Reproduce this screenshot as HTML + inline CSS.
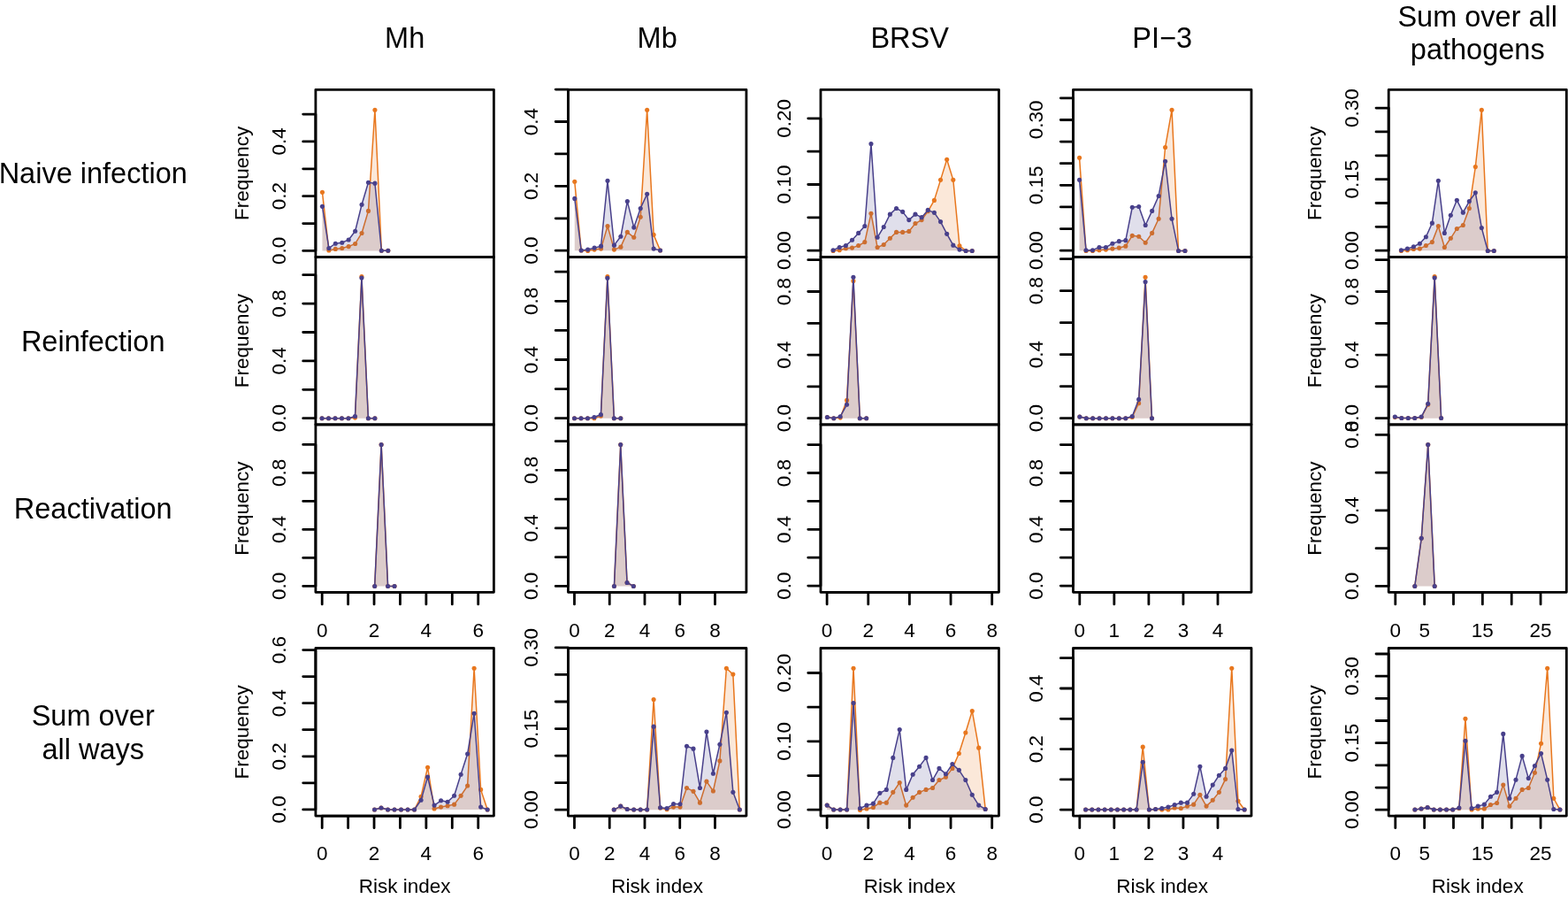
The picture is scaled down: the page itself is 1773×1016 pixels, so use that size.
<!DOCTYPE html>
<html><head><meta charset="utf-8"><title>Risk index frequency</title>
<style>html,body{margin:0;padding:0;background:#fff;overflow:hidden}svg{display:block}text{font-family:'Liberation Sans',sans-serif;fill:#000}</style></head><body>
<svg width="1773" height="1016" viewBox="0 0 1773 1016">
<rect width="1773" height="1016" fill="#fff"/>
<text x="457.65" y="53.9" font-size="32.5" text-anchor="middle">Mh</text>
<text x="743.18" y="53.9" font-size="32.5" text-anchor="middle">Mb</text>
<text x="1028.71" y="53.9" font-size="32.5" text-anchor="middle">BRSV</text>
<text x="1314.24" y="53.9" font-size="32.5" text-anchor="middle">PI−3</text>
<text x="1670.75" y="29.8" font-size="32.5" text-anchor="middle">Sum over all</text>
<text x="1670.75" y="66.7" font-size="32.5" text-anchor="middle">pathogens</text>
<text x="105.2" y="207.2" font-size="32.5" text-anchor="middle">Naive infection</text>
<text x="105.2" y="397.1" font-size="32.5" text-anchor="middle">Reinfection</text>
<text x="105.2" y="586.0" font-size="32.5" text-anchor="middle">Reactivation</text>
<text x="105.2" y="819.8" font-size="32.5" text-anchor="middle">Sum over</text>
<text x="105.2" y="857.9" font-size="32.5" text-anchor="middle">all ways</text>
<g><polygon points="364.45,283.4 364.45,217.26 371.88,282.91 379.32,281.41 386.76,280.48 394.19,278.6 401.63,275.43 409.06,263.46 416.5,238.4 423.93,124.31 431.37,283.28 438.81,283.28 438.81,283.4" fill="#E8771E" fill-opacity="0.17" stroke="none"/>
<polyline points="364.45,217.26 371.88,282.91 379.32,281.41 386.76,280.48 394.19,278.6 401.63,275.43 409.06,263.46 416.5,238.4 423.93,124.31 431.37,283.28 438.81,283.28" fill="none" stroke="#E8771E" stroke-width="1.5" stroke-linejoin="round" stroke-linecap="round"/>
<g fill="#E8771E"><circle cx="364.45" cy="217.26" r="2.55"/><circle cx="371.88" cy="282.91" r="2.55"/><circle cx="379.32" cy="281.41" r="2.55"/><circle cx="386.76" cy="280.48" r="2.55"/><circle cx="394.19" cy="278.6" r="2.55"/><circle cx="401.63" cy="275.43" r="2.55"/><circle cx="409.06" cy="263.46" r="2.55"/><circle cx="416.5" cy="238.4" r="2.55"/><circle cx="423.93" cy="124.31" r="2.55"/><circle cx="431.37" cy="283.28" r="2.55"/><circle cx="438.81" cy="283.28" r="2.55"/></g>
<polygon points="364.45,283.4 364.45,233.35 371.88,280.48 379.32,275.24 386.76,274.3 394.19,270.94 401.63,261.21 409.06,231.29 416.5,206.23 423.93,207.16 431.37,283.28 438.81,283.28 438.81,283.4" fill="#48408B" fill-opacity="0.17" stroke="none"/>
<polyline points="364.45,233.35 371.88,280.48 379.32,275.24 386.76,274.3 394.19,270.94 401.63,261.21 409.06,231.29 416.5,206.23 423.93,207.16 431.37,283.28 438.81,283.28" fill="none" stroke="#48408B" stroke-width="1.5" stroke-linejoin="round" stroke-linecap="round"/>
<g fill="#48408B"><circle cx="364.45" cy="233.35" r="2.55"/><circle cx="371.88" cy="280.48" r="2.55"/><circle cx="379.32" cy="275.24" r="2.55"/><circle cx="386.76" cy="274.3" r="2.55"/><circle cx="394.19" cy="270.94" r="2.55"/><circle cx="401.63" cy="261.21" r="2.55"/><circle cx="409.06" cy="231.29" r="2.55"/><circle cx="416.5" cy="206.23" r="2.55"/><circle cx="423.93" cy="207.16" r="2.55"/><circle cx="431.37" cy="283.28" r="2.55"/><circle cx="438.81" cy="283.28" r="2.55"/></g>
<rect x="356.9" y="101.3" width="201.5" height="189.3" fill="none" stroke="#000" stroke-width="2.8" stroke-linejoin="round"/>
<path d="M342.7 283.4H356.9M342.7 252.54H356.9M342.7 221.68H356.9M342.7 190.82H356.9M342.7 159.96H356.9M342.7 129.1H356.9M356.9 283.4V129.1" stroke="#000" stroke-width="2.8" stroke-linecap="round" fill="none"/>
<text transform="translate(322.9 283.4) rotate(-90)" font-size="22.5" text-anchor="middle">0.0</text>
<text transform="translate(322.9 221.68) rotate(-90)" font-size="22.5" text-anchor="middle">0.2</text>
<text transform="translate(322.9 159.96) rotate(-90)" font-size="22.5" text-anchor="middle">0.4</text>
<text transform="translate(281.1 195.95) rotate(-90)" font-size="22.5" text-anchor="middle">Frequency</text></g>
<g><polygon points="649.79,283.2 649.79,205.31 657.23,283.07 664.68,283.46 672.12,282.09 679.57,281.1 687.01,255.51 694.46,282.09 701.9,279.13 709.35,262.4 716.79,268.31 724.24,245.28 731.68,124.21 739.13,265.35 746.57,283.07 746.57,283.2" fill="#E8771E" fill-opacity="0.17" stroke="none"/>
<polyline points="649.79,205.31 657.23,283.07 664.68,283.46 672.12,282.09 679.57,281.1 687.01,255.51 694.46,282.09 701.9,279.13 709.35,262.4 716.79,268.31 724.24,245.28 731.68,124.21 739.13,265.35 746.57,283.07" fill="none" stroke="#E8771E" stroke-width="1.5" stroke-linejoin="round" stroke-linecap="round"/>
<g fill="#E8771E"><circle cx="649.79" cy="205.31" r="2.55"/><circle cx="657.23" cy="283.07" r="2.55"/><circle cx="664.68" cy="283.46" r="2.55"/><circle cx="672.12" cy="282.09" r="2.55"/><circle cx="679.57" cy="281.1" r="2.55"/><circle cx="687.01" cy="255.51" r="2.55"/><circle cx="694.46" cy="282.09" r="2.55"/><circle cx="701.9" cy="279.13" r="2.55"/><circle cx="709.35" cy="262.4" r="2.55"/><circle cx="716.79" cy="268.31" r="2.55"/><circle cx="724.24" cy="245.28" r="2.55"/><circle cx="731.68" cy="124.21" r="2.55"/><circle cx="739.13" cy="265.35" r="2.55"/><circle cx="746.57" cy="283.07" r="2.55"/></g>
<polygon points="649.79,283.2 649.79,224.41 657.23,283.07 664.68,282.09 672.12,280.12 679.57,278.15 687.01,204.33 694.46,277.17 701.9,267.32 709.35,227.56 716.79,257.09 724.24,235.43 731.68,219.29 739.13,281.1 746.57,283.07 746.57,283.2" fill="#48408B" fill-opacity="0.17" stroke="none"/>
<polyline points="649.79,224.41 657.23,283.07 664.68,282.09 672.12,280.12 679.57,278.15 687.01,204.33 694.46,277.17 701.9,267.32 709.35,227.56 716.79,257.09 724.24,235.43 731.68,219.29 739.13,281.1 746.57,283.07" fill="none" stroke="#48408B" stroke-width="1.5" stroke-linejoin="round" stroke-linecap="round"/>
<g fill="#48408B"><circle cx="649.79" cy="224.41" r="2.55"/><circle cx="657.23" cy="283.07" r="2.55"/><circle cx="664.68" cy="282.09" r="2.55"/><circle cx="672.12" cy="280.12" r="2.55"/><circle cx="679.57" cy="278.15" r="2.55"/><circle cx="687.01" cy="204.33" r="2.55"/><circle cx="694.46" cy="277.17" r="2.55"/><circle cx="701.9" cy="267.32" r="2.55"/><circle cx="709.35" cy="227.56" r="2.55"/><circle cx="716.79" cy="257.09" r="2.55"/><circle cx="724.24" cy="235.43" r="2.55"/><circle cx="731.68" cy="219.29" r="2.55"/><circle cx="739.13" cy="281.1" r="2.55"/><circle cx="746.57" cy="283.07" r="2.55"/></g>
<rect x="642.43" y="101.3" width="201.5" height="189.3" fill="none" stroke="#000" stroke-width="2.8" stroke-linejoin="round"/>
<path d="M628.23 283.2H642.43M628.23 246.78H642.43M628.23 210.36H642.43M628.23 173.94H642.43M628.23 137.52H642.43M628.23 101.1H642.43M642.43 283.2V101.1" stroke="#000" stroke-width="2.8" stroke-linecap="round" fill="none"/>
<text transform="translate(608.43 283.2) rotate(-90)" font-size="22.5" text-anchor="middle">0.0</text>
<text transform="translate(608.43 210.36) rotate(-90)" font-size="22.5" text-anchor="middle">0.2</text>
<text transform="translate(608.43 137.52) rotate(-90)" font-size="22.5" text-anchor="middle">0.4</text></g>
<g><polygon points="942.09,283.2 942.09,283.46 949.24,282.68 956.38,280.71 963.52,280.12 970.67,277.56 977.81,273.62 984.95,241.34 992.1,279.53 999.24,276.57 1006.38,269.29 1013.53,262.4 1020.67,262.4 1027.81,261.42 1034.96,252.56 1042.1,248.62 1049.24,238.78 1056.39,226.38 1063.53,203.35 1070.67,180.31 1077.82,203.35 1084.96,277.76 1092.11,283.46 1099.25,283.46 1099.25,283.2" fill="#E8771E" fill-opacity="0.17" stroke="none"/>
<polyline points="942.09,283.46 949.24,282.68 956.38,280.71 963.52,280.12 970.67,277.56 977.81,273.62 984.95,241.34 992.1,279.53 999.24,276.57 1006.38,269.29 1013.53,262.4 1020.67,262.4 1027.81,261.42 1034.96,252.56 1042.1,248.62 1049.24,238.78 1056.39,226.38 1063.53,203.35 1070.67,180.31 1077.82,203.35 1084.96,277.76 1092.11,283.46 1099.25,283.46" fill="none" stroke="#E8771E" stroke-width="1.5" stroke-linejoin="round" stroke-linecap="round"/>
<g fill="#E8771E"><circle cx="942.09" cy="283.46" r="2.55"/><circle cx="949.24" cy="282.68" r="2.55"/><circle cx="956.38" cy="280.71" r="2.55"/><circle cx="963.52" cy="280.12" r="2.55"/><circle cx="970.67" cy="277.56" r="2.55"/><circle cx="977.81" cy="273.62" r="2.55"/><circle cx="984.95" cy="241.34" r="2.55"/><circle cx="992.1" cy="279.53" r="2.55"/><circle cx="999.24" cy="276.57" r="2.55"/><circle cx="1006.38" cy="269.29" r="2.55"/><circle cx="1013.53" cy="262.4" r="2.55"/><circle cx="1020.67" cy="262.4" r="2.55"/><circle cx="1027.81" cy="261.42" r="2.55"/><circle cx="1034.96" cy="252.56" r="2.55"/><circle cx="1042.1" cy="248.62" r="2.55"/><circle cx="1049.24" cy="238.78" r="2.55"/><circle cx="1056.39" cy="226.38" r="2.55"/><circle cx="1063.53" cy="203.35" r="2.55"/><circle cx="1070.67" cy="180.31" r="2.55"/><circle cx="1077.82" cy="203.35" r="2.55"/><circle cx="1084.96" cy="277.76" r="2.55"/><circle cx="1092.11" cy="283.46" r="2.55"/><circle cx="1099.25" cy="283.46" r="2.55"/></g>
<polygon points="942.09,283.2 942.09,282.68 949.24,279.53 956.38,277.56 963.52,271.26 970.67,263.39 977.81,255.51 984.95,162.6 992.1,268.31 999.24,256.5 1006.38,242.13 1013.53,235.43 1020.67,239.37 1027.81,248.62 1034.96,242.13 1042.1,245.67 1049.24,237.4 1056.39,240.35 1063.53,250.59 1070.67,264.37 1077.82,277.17 1084.96,282.09 1092.11,283.46 1099.25,283.46 1099.25,283.2" fill="#48408B" fill-opacity="0.17" stroke="none"/>
<polyline points="942.09,282.68 949.24,279.53 956.38,277.56 963.52,271.26 970.67,263.39 977.81,255.51 984.95,162.6 992.1,268.31 999.24,256.5 1006.38,242.13 1013.53,235.43 1020.67,239.37 1027.81,248.62 1034.96,242.13 1042.1,245.67 1049.24,237.4 1056.39,240.35 1063.53,250.59 1070.67,264.37 1077.82,277.17 1084.96,282.09 1092.11,283.46 1099.25,283.46" fill="none" stroke="#48408B" stroke-width="1.5" stroke-linejoin="round" stroke-linecap="round"/>
<g fill="#48408B"><circle cx="942.09" cy="282.68" r="2.55"/><circle cx="949.24" cy="279.53" r="2.55"/><circle cx="956.38" cy="277.56" r="2.55"/><circle cx="963.52" cy="271.26" r="2.55"/><circle cx="970.67" cy="263.39" r="2.55"/><circle cx="977.81" cy="255.51" r="2.55"/><circle cx="984.95" cy="162.6" r="2.55"/><circle cx="992.1" cy="268.31" r="2.55"/><circle cx="999.24" cy="256.5" r="2.55"/><circle cx="1006.38" cy="242.13" r="2.55"/><circle cx="1013.53" cy="235.43" r="2.55"/><circle cx="1020.67" cy="239.37" r="2.55"/><circle cx="1027.81" cy="248.62" r="2.55"/><circle cx="1034.96" cy="242.13" r="2.55"/><circle cx="1042.1" cy="245.67" r="2.55"/><circle cx="1049.24" cy="237.4" r="2.55"/><circle cx="1056.39" cy="240.35" r="2.55"/><circle cx="1063.53" cy="250.59" r="2.55"/><circle cx="1070.67" cy="264.37" r="2.55"/><circle cx="1077.82" cy="277.17" r="2.55"/><circle cx="1084.96" cy="282.09" r="2.55"/><circle cx="1092.11" cy="283.46" r="2.55"/><circle cx="1099.25" cy="283.46" r="2.55"/></g>
<rect x="927.96" y="101.3" width="201.5" height="189.3" fill="none" stroke="#000" stroke-width="2.8" stroke-linejoin="round"/>
<path d="M913.76 283.2H927.96M913.76 245.85H927.96M913.76 208.5H927.96M913.76 171.15H927.96M913.76 133.8H927.96M927.96 283.2V133.8" stroke="#000" stroke-width="2.8" stroke-linecap="round" fill="none"/>
<text transform="translate(893.96 283.2) rotate(-90)" font-size="22.5" text-anchor="middle">0.00</text>
<text transform="translate(893.96 208.5) rotate(-90)" font-size="22.5" text-anchor="middle">0.10</text>
<text transform="translate(893.96 133.8) rotate(-90)" font-size="22.5" text-anchor="middle">0.20</text></g>
<g><polygon points="1220.56,283.2 1220.56,178.35 1228.02,283.46 1235.49,283.46 1242.95,282.68 1250.42,282.09 1257.88,281.1 1265.34,280.12 1272.81,278.15 1280.27,266.34 1287.73,267.32 1295.2,274.21 1302.66,263.39 1310.13,247.24 1317.59,166.54 1325.05,124.21 1332.52,283.46 1339.98,283.46 1339.98,283.2" fill="#E8771E" fill-opacity="0.17" stroke="none"/>
<polyline points="1220.56,178.35 1228.02,283.46 1235.49,283.46 1242.95,282.68 1250.42,282.09 1257.88,281.1 1265.34,280.12 1272.81,278.15 1280.27,266.34 1287.73,267.32 1295.2,274.21 1302.66,263.39 1310.13,247.24 1317.59,166.54 1325.05,124.21 1332.52,283.46 1339.98,283.46" fill="none" stroke="#E8771E" stroke-width="1.5" stroke-linejoin="round" stroke-linecap="round"/>
<g fill="#E8771E"><circle cx="1220.56" cy="178.35" r="2.55"/><circle cx="1228.02" cy="283.46" r="2.55"/><circle cx="1235.49" cy="283.46" r="2.55"/><circle cx="1242.95" cy="282.68" r="2.55"/><circle cx="1250.42" cy="282.09" r="2.55"/><circle cx="1257.88" cy="281.1" r="2.55"/><circle cx="1265.34" cy="280.12" r="2.55"/><circle cx="1272.81" cy="278.15" r="2.55"/><circle cx="1280.27" cy="266.34" r="2.55"/><circle cx="1287.73" cy="267.32" r="2.55"/><circle cx="1295.2" cy="274.21" r="2.55"/><circle cx="1302.66" cy="263.39" r="2.55"/><circle cx="1310.13" cy="247.24" r="2.55"/><circle cx="1317.59" cy="166.54" r="2.55"/><circle cx="1325.05" cy="124.21" r="2.55"/><circle cx="1332.52" cy="283.46" r="2.55"/><circle cx="1339.98" cy="283.46" r="2.55"/></g>
<polygon points="1220.56,283.2 1220.56,203.35 1228.02,282.68 1235.49,282.68 1242.95,279.53 1250.42,279.53 1257.88,275.2 1265.34,272.64 1272.81,271.65 1280.27,234.25 1287.73,233.46 1295.2,254.53 1302.66,238.39 1310.13,221.46 1317.59,182.28 1325.05,247.24 1332.52,283.46 1339.98,283.46 1339.98,283.2" fill="#48408B" fill-opacity="0.17" stroke="none"/>
<polyline points="1220.56,203.35 1228.02,282.68 1235.49,282.68 1242.95,279.53 1250.42,279.53 1257.88,275.2 1265.34,272.64 1272.81,271.65 1280.27,234.25 1287.73,233.46 1295.2,254.53 1302.66,238.39 1310.13,221.46 1317.59,182.28 1325.05,247.24 1332.52,283.46 1339.98,283.46" fill="none" stroke="#48408B" stroke-width="1.5" stroke-linejoin="round" stroke-linecap="round"/>
<g fill="#48408B"><circle cx="1220.56" cy="203.35" r="2.55"/><circle cx="1228.02" cy="282.68" r="2.55"/><circle cx="1235.49" cy="282.68" r="2.55"/><circle cx="1242.95" cy="279.53" r="2.55"/><circle cx="1250.42" cy="279.53" r="2.55"/><circle cx="1257.88" cy="275.2" r="2.55"/><circle cx="1265.34" cy="272.64" r="2.55"/><circle cx="1272.81" cy="271.65" r="2.55"/><circle cx="1280.27" cy="234.25" r="2.55"/><circle cx="1287.73" cy="233.46" r="2.55"/><circle cx="1295.2" cy="254.53" r="2.55"/><circle cx="1302.66" cy="238.39" r="2.55"/><circle cx="1310.13" cy="221.46" r="2.55"/><circle cx="1317.59" cy="182.28" r="2.55"/><circle cx="1325.05" cy="247.24" r="2.55"/><circle cx="1332.52" cy="283.46" r="2.55"/><circle cx="1339.98" cy="283.46" r="2.55"/></g>
<rect x="1213.49" y="101.3" width="201.5" height="189.3" fill="none" stroke="#000" stroke-width="2.8" stroke-linejoin="round"/>
<path d="M1199.29 283.2H1213.49M1199.29 258.58H1213.49M1199.29 233.96H1213.49M1199.29 209.34H1213.49M1199.29 184.72H1213.49M1199.29 160.1H1213.49M1199.29 135.48H1213.49M1199.29 110.86H1213.49M1213.49 283.2V110.86" stroke="#000" stroke-width="2.8" stroke-linecap="round" fill="none"/>
<text transform="translate(1179.49 283.2) rotate(-90)" font-size="22.5" text-anchor="middle">0.00</text>
<text transform="translate(1179.49 209.34) rotate(-90)" font-size="22.5" text-anchor="middle">0.15</text>
<text transform="translate(1179.49 135.48) rotate(-90)" font-size="22.5" text-anchor="middle">0.30</text></g>
<g><polygon points="1584.41,283.2 1584.41,283.46 1591.41,282.68 1598.4,281.5 1605.39,281.1 1612.38,277.56 1619.38,273.62 1626.37,255.51 1633.36,279.53 1640.35,269.29 1647.35,258.46 1654.34,254.53 1661.33,235.43 1668.32,188.58 1675.32,124.21 1682.31,283.46 1689.3,283.46 1689.3,283.2" fill="#E8771E" fill-opacity="0.17" stroke="none"/>
<polyline points="1584.41,283.46 1591.41,282.68 1598.4,281.5 1605.39,281.1 1612.38,277.56 1619.38,273.62 1626.37,255.51 1633.36,279.53 1640.35,269.29 1647.35,258.46 1654.34,254.53 1661.33,235.43 1668.32,188.58 1675.32,124.21 1682.31,283.46 1689.3,283.46" fill="none" stroke="#E8771E" stroke-width="1.5" stroke-linejoin="round" stroke-linecap="round"/>
<g fill="#E8771E"><circle cx="1584.41" cy="283.46" r="2.55"/><circle cx="1591.41" cy="282.68" r="2.55"/><circle cx="1598.4" cy="281.5" r="2.55"/><circle cx="1605.39" cy="281.1" r="2.55"/><circle cx="1612.38" cy="277.56" r="2.55"/><circle cx="1619.38" cy="273.62" r="2.55"/><circle cx="1626.37" cy="255.51" r="2.55"/><circle cx="1633.36" cy="279.53" r="2.55"/><circle cx="1640.35" cy="269.29" r="2.55"/><circle cx="1647.35" cy="258.46" r="2.55"/><circle cx="1654.34" cy="254.53" r="2.55"/><circle cx="1661.33" cy="235.43" r="2.55"/><circle cx="1668.32" cy="188.58" r="2.55"/><circle cx="1675.32" cy="124.21" r="2.55"/><circle cx="1682.31" cy="283.46" r="2.55"/><circle cx="1689.3" cy="283.46" r="2.55"/></g>
<polygon points="1584.41,283.2 1584.41,282.68 1591.41,281.1 1598.4,278.74 1605.39,275.2 1612.38,267.72 1619.38,252.17 1626.37,204.33 1633.36,263.39 1640.35,243.31 1647.35,226.18 1654.34,240.16 1661.33,227.56 1668.32,217.72 1675.32,257.48 1682.31,283.46 1689.3,283.46 1689.3,283.2" fill="#48408B" fill-opacity="0.17" stroke="none"/>
<polyline points="1584.41,282.68 1591.41,281.1 1598.4,278.74 1605.39,275.2 1612.38,267.72 1619.38,252.17 1626.37,204.33 1633.36,263.39 1640.35,243.31 1647.35,226.18 1654.34,240.16 1661.33,227.56 1668.32,217.72 1675.32,257.48 1682.31,283.46 1689.3,283.46" fill="none" stroke="#48408B" stroke-width="1.5" stroke-linejoin="round" stroke-linecap="round"/>
<g fill="#48408B"><circle cx="1584.41" cy="282.68" r="2.55"/><circle cx="1591.41" cy="281.1" r="2.55"/><circle cx="1598.4" cy="278.74" r="2.55"/><circle cx="1605.39" cy="275.2" r="2.55"/><circle cx="1612.38" cy="267.72" r="2.55"/><circle cx="1619.38" cy="252.17" r="2.55"/><circle cx="1626.37" cy="204.33" r="2.55"/><circle cx="1633.36" cy="263.39" r="2.55"/><circle cx="1640.35" cy="243.31" r="2.55"/><circle cx="1647.35" cy="226.18" r="2.55"/><circle cx="1654.34" cy="240.16" r="2.55"/><circle cx="1661.33" cy="227.56" r="2.55"/><circle cx="1668.32" cy="217.72" r="2.55"/><circle cx="1675.32" cy="257.48" r="2.55"/><circle cx="1682.31" cy="283.46" r="2.55"/><circle cx="1689.3" cy="283.46" r="2.55"/></g>
<rect x="1570.2" y="101.3" width="201.1" height="189.3" fill="none" stroke="#000" stroke-width="2.8" stroke-linejoin="round"/>
<path d="M1556 283.2H1570.2M1556 256.35H1570.2M1556 229.5H1570.2M1556 202.65H1570.2M1556 175.8H1570.2M1556 148.95H1570.2M1556 122.1H1570.2M1570.2 283.2V122.1" stroke="#000" stroke-width="2.8" stroke-linecap="round" fill="none"/>
<text transform="translate(1536.2 283.2) rotate(-90)" font-size="22.5" text-anchor="middle">0.00</text>
<text transform="translate(1536.2 202.65) rotate(-90)" font-size="22.5" text-anchor="middle">0.15</text>
<text transform="translate(1536.2 122.1) rotate(-90)" font-size="22.5" text-anchor="middle">0.30</text>
<text transform="translate(1494.4 195.95) rotate(-90)" font-size="22.5" text-anchor="middle">Frequency</text></g>
<g><polygon points="364.06,472.7 364.06,472.68 371.54,472.68 379.02,472.68 386.5,472.68 393.98,472.68 401.46,472.09 408.94,312.64 416.42,472.68 423.9,472.68 423.9,472.7" fill="#E8771E" fill-opacity="0.17" stroke="none"/>
<polyline points="364.06,472.68 371.54,472.68 379.02,472.68 386.5,472.68 393.98,472.68 401.46,472.09 408.94,312.64 416.42,472.68 423.9,472.68" fill="none" stroke="#E8771E" stroke-width="1.5" stroke-linejoin="round" stroke-linecap="round"/>
<g fill="#E8771E"><circle cx="364.06" cy="472.68" r="2.55"/><circle cx="371.54" cy="472.68" r="2.55"/><circle cx="379.02" cy="472.68" r="2.55"/><circle cx="386.5" cy="472.68" r="2.55"/><circle cx="393.98" cy="472.68" r="2.55"/><circle cx="401.46" cy="472.09" r="2.55"/><circle cx="408.94" cy="312.64" r="2.55"/><circle cx="416.42" cy="472.68" r="2.55"/><circle cx="423.9" cy="472.68" r="2.55"/></g>
<polygon points="364.06,472.7 364.06,472.68 371.54,472.68 379.02,472.68 386.5,472.68 393.98,472.68 401.46,470.51 408.94,314.02 416.42,472.68 423.9,472.68 423.9,472.7" fill="#48408B" fill-opacity="0.17" stroke="none"/>
<polyline points="364.06,472.68 371.54,472.68 379.02,472.68 386.5,472.68 393.98,472.68 401.46,470.51 408.94,314.02 416.42,472.68 423.9,472.68" fill="none" stroke="#48408B" stroke-width="1.5" stroke-linejoin="round" stroke-linecap="round"/>
<g fill="#48408B"><circle cx="364.06" cy="472.68" r="2.55"/><circle cx="371.54" cy="472.68" r="2.55"/><circle cx="379.02" cy="472.68" r="2.55"/><circle cx="386.5" cy="472.68" r="2.55"/><circle cx="393.98" cy="472.68" r="2.55"/><circle cx="401.46" cy="470.51" r="2.55"/><circle cx="408.94" cy="314.02" r="2.55"/><circle cx="416.42" cy="472.68" r="2.55"/><circle cx="423.9" cy="472.68" r="2.55"/></g>
<rect x="356.9" y="290.6" width="201.5" height="189.2" fill="none" stroke="#000" stroke-width="2.8" stroke-linejoin="round"/>
<path d="M342.7 472.7H356.9M342.7 440.3H356.9M342.7 407.9H356.9M342.7 375.5H356.9M342.7 343.1H356.9M342.7 310.7H356.9M356.9 472.7V310.7" stroke="#000" stroke-width="2.8" stroke-linecap="round" fill="none"/>
<text transform="translate(322.9 472.7) rotate(-90)" font-size="22.5" text-anchor="middle">0.0</text>
<text transform="translate(322.9 407.9) rotate(-90)" font-size="22.5" text-anchor="middle">0.4</text>
<text transform="translate(322.9 343.1) rotate(-90)" font-size="22.5" text-anchor="middle">0.8</text>
<text transform="translate(281.1 385.2) rotate(-90)" font-size="22.5" text-anchor="middle">Frequency</text></g>
<g><polygon points="649.53,472.7 649.53,472.68 657,472.68 664.47,472.68 671.94,472.68 679.41,470.12 686.89,312.64 694.36,472.68 701.83,472.68 701.83,472.7" fill="#E8771E" fill-opacity="0.17" stroke="none"/>
<polyline points="649.53,472.68 657,472.68 664.47,472.68 671.94,472.68 679.41,470.12 686.89,312.64 694.36,472.68 701.83,472.68" fill="none" stroke="#E8771E" stroke-width="1.5" stroke-linejoin="round" stroke-linecap="round"/>
<g fill="#E8771E"><circle cx="649.53" cy="472.68" r="2.55"/><circle cx="657" cy="472.68" r="2.55"/><circle cx="664.47" cy="472.68" r="2.55"/><circle cx="671.94" cy="472.68" r="2.55"/><circle cx="679.41" cy="470.12" r="2.55"/><circle cx="686.89" cy="312.64" r="2.55"/><circle cx="694.36" cy="472.68" r="2.55"/><circle cx="701.83" cy="472.68" r="2.55"/></g>
<polygon points="649.53,472.7 649.53,472.68 657,472.68 664.47,472.68 671.94,471.5 679.41,468.54 686.89,314.21 694.36,472.68 701.83,472.68 701.83,472.7" fill="#48408B" fill-opacity="0.17" stroke="none"/>
<polyline points="649.53,472.68 657,472.68 664.47,472.68 671.94,471.5 679.41,468.54 686.89,314.21 694.36,472.68 701.83,472.68" fill="none" stroke="#48408B" stroke-width="1.5" stroke-linejoin="round" stroke-linecap="round"/>
<g fill="#48408B"><circle cx="649.53" cy="472.68" r="2.55"/><circle cx="657" cy="472.68" r="2.55"/><circle cx="664.47" cy="472.68" r="2.55"/><circle cx="671.94" cy="471.5" r="2.55"/><circle cx="679.41" cy="468.54" r="2.55"/><circle cx="686.89" cy="314.21" r="2.55"/><circle cx="694.36" cy="472.68" r="2.55"/><circle cx="701.83" cy="472.68" r="2.55"/></g>
<rect x="642.43" y="290.6" width="201.5" height="189.2" fill="none" stroke="#000" stroke-width="2.8" stroke-linejoin="round"/>
<path d="M628.23 472.7H642.43M628.23 439.6H642.43M628.23 406.5H642.43M628.23 373.4H642.43M628.23 340.3H642.43M628.23 307.2H642.43M642.43 472.7V307.2" stroke="#000" stroke-width="2.8" stroke-linecap="round" fill="none"/>
<text transform="translate(608.43 472.7) rotate(-90)" font-size="22.5" text-anchor="middle">0.0</text>
<text transform="translate(608.43 406.5) rotate(-90)" font-size="22.5" text-anchor="middle">0.4</text>
<text transform="translate(608.43 340.3) rotate(-90)" font-size="22.5" text-anchor="middle">0.8</text></g>
<g><polygon points="935.39,472.7 935.39,471.5 942.77,472.68 950.15,472.09 957.53,452.4 964.91,317.56 972.29,472.68 979.68,472.68 979.68,472.7" fill="#E8771E" fill-opacity="0.17" stroke="none"/>
<polyline points="935.39,471.5 942.77,472.68 950.15,472.09 957.53,452.4 964.91,317.56 972.29,472.68 979.68,472.68" fill="none" stroke="#E8771E" stroke-width="1.5" stroke-linejoin="round" stroke-linecap="round"/>
<g fill="#E8771E"><circle cx="935.39" cy="471.5" r="2.55"/><circle cx="942.77" cy="472.68" r="2.55"/><circle cx="950.15" cy="472.09" r="2.55"/><circle cx="957.53" cy="452.4" r="2.55"/><circle cx="964.91" cy="317.56" r="2.55"/><circle cx="972.29" cy="472.68" r="2.55"/><circle cx="979.68" cy="472.68" r="2.55"/></g>
<polygon points="935.39,472.7 935.39,471.5 942.77,472.68 950.15,470.71 957.53,457.32 964.91,313.23 972.29,472.68 979.68,472.68 979.68,472.7" fill="#48408B" fill-opacity="0.17" stroke="none"/>
<polyline points="935.39,471.5 942.77,472.68 950.15,470.71 957.53,457.32 964.91,313.23 972.29,472.68 979.68,472.68" fill="none" stroke="#48408B" stroke-width="1.5" stroke-linejoin="round" stroke-linecap="round"/>
<g fill="#48408B"><circle cx="935.39" cy="471.5" r="2.55"/><circle cx="942.77" cy="472.68" r="2.55"/><circle cx="950.15" cy="470.71" r="2.55"/><circle cx="957.53" cy="457.32" r="2.55"/><circle cx="964.91" cy="313.23" r="2.55"/><circle cx="972.29" cy="472.68" r="2.55"/><circle cx="979.68" cy="472.68" r="2.55"/></g>
<rect x="927.96" y="290.6" width="201.5" height="189.2" fill="none" stroke="#000" stroke-width="2.8" stroke-linejoin="round"/>
<path d="M913.76 472.7H927.96M913.76 436.9H927.96M913.76 401.1H927.96M913.76 365.3H927.96M913.76 329.5H927.96M913.76 293.7H927.96M927.96 472.7V293.7" stroke="#000" stroke-width="2.8" stroke-linecap="round" fill="none"/>
<text transform="translate(893.96 472.7) rotate(-90)" font-size="22.5" text-anchor="middle">0.0</text>
<text transform="translate(893.96 401.1) rotate(-90)" font-size="22.5" text-anchor="middle">0.4</text>
<text transform="translate(893.96 329.5) rotate(-90)" font-size="22.5" text-anchor="middle">0.8</text></g>
<g><polygon points="1220.83,472.7 1220.83,471.1 1228.25,472.68 1235.68,472.68 1243.1,472.68 1250.53,472.68 1257.95,472.68 1265.38,472.68 1272.8,472.68 1280.23,471.5 1287.66,455.75 1295.08,313.23 1302.51,472.68 1302.51,472.7" fill="#E8771E" fill-opacity="0.17" stroke="none"/>
<polyline points="1220.83,471.1 1228.25,472.68 1235.68,472.68 1243.1,472.68 1250.53,472.68 1257.95,472.68 1265.38,472.68 1272.8,472.68 1280.23,471.5 1287.66,455.75 1295.08,313.23 1302.51,472.68" fill="none" stroke="#E8771E" stroke-width="1.5" stroke-linejoin="round" stroke-linecap="round"/>
<g fill="#E8771E"><circle cx="1220.83" cy="471.1" r="2.55"/><circle cx="1228.25" cy="472.68" r="2.55"/><circle cx="1235.68" cy="472.68" r="2.55"/><circle cx="1243.1" cy="472.68" r="2.55"/><circle cx="1250.53" cy="472.68" r="2.55"/><circle cx="1257.95" cy="472.68" r="2.55"/><circle cx="1265.38" cy="472.68" r="2.55"/><circle cx="1272.8" cy="472.68" r="2.55"/><circle cx="1280.23" cy="471.5" r="2.55"/><circle cx="1287.66" cy="455.75" r="2.55"/><circle cx="1295.08" cy="313.23" r="2.55"/><circle cx="1302.51" cy="472.68" r="2.55"/></g>
<polygon points="1220.83,472.7 1220.83,471.1 1228.25,472.68 1235.68,472.68 1243.1,472.68 1250.53,472.68 1257.95,472.68 1265.38,472.68 1272.8,472.68 1280.23,470.51 1287.66,451.42 1295.08,318.54 1302.51,472.68 1302.51,472.7" fill="#48408B" fill-opacity="0.17" stroke="none"/>
<polyline points="1220.83,471.1 1228.25,472.68 1235.68,472.68 1243.1,472.68 1250.53,472.68 1257.95,472.68 1265.38,472.68 1272.8,472.68 1280.23,470.51 1287.66,451.42 1295.08,318.54 1302.51,472.68" fill="none" stroke="#48408B" stroke-width="1.5" stroke-linejoin="round" stroke-linecap="round"/>
<g fill="#48408B"><circle cx="1220.83" cy="471.1" r="2.55"/><circle cx="1228.25" cy="472.68" r="2.55"/><circle cx="1235.68" cy="472.68" r="2.55"/><circle cx="1243.1" cy="472.68" r="2.55"/><circle cx="1250.53" cy="472.68" r="2.55"/><circle cx="1257.95" cy="472.68" r="2.55"/><circle cx="1265.38" cy="472.68" r="2.55"/><circle cx="1272.8" cy="472.68" r="2.55"/><circle cx="1280.23" cy="470.51" r="2.55"/><circle cx="1287.66" cy="451.42" r="2.55"/><circle cx="1295.08" cy="318.54" r="2.55"/><circle cx="1302.51" cy="472.68" r="2.55"/></g>
<rect x="1213.49" y="290.6" width="201.5" height="189.2" fill="none" stroke="#000" stroke-width="2.8" stroke-linejoin="round"/>
<path d="M1199.29 472.7H1213.49M1199.29 436.7H1213.49M1199.29 400.7H1213.49M1199.29 364.7H1213.49M1199.29 328.7H1213.49M1199.29 292.7H1213.49M1213.49 472.7V292.7" stroke="#000" stroke-width="2.8" stroke-linecap="round" fill="none"/>
<text transform="translate(1179.49 472.7) rotate(-90)" font-size="22.5" text-anchor="middle">0.0</text>
<text transform="translate(1179.49 400.7) rotate(-90)" font-size="22.5" text-anchor="middle">0.4</text>
<text transform="translate(1179.49 328.7) rotate(-90)" font-size="22.5" text-anchor="middle">0.8</text></g>
<g><polygon points="1577.34,472.7 1577.34,471.5 1584.81,472.48 1592.28,472.48 1599.75,472.48 1607.21,471.5 1614.68,457.32 1622.15,312.64 1629.62,472.48 1629.62,472.7" fill="#E8771E" fill-opacity="0.17" stroke="none"/>
<polyline points="1577.34,471.5 1584.81,472.48 1592.28,472.48 1599.75,472.48 1607.21,471.5 1614.68,457.32 1622.15,312.64 1629.62,472.48" fill="none" stroke="#E8771E" stroke-width="1.5" stroke-linejoin="round" stroke-linecap="round"/>
<g fill="#E8771E"><circle cx="1577.34" cy="471.5" r="2.55"/><circle cx="1584.81" cy="472.48" r="2.55"/><circle cx="1592.28" cy="472.48" r="2.55"/><circle cx="1599.75" cy="472.48" r="2.55"/><circle cx="1607.21" cy="471.5" r="2.55"/><circle cx="1614.68" cy="457.32" r="2.55"/><circle cx="1622.15" cy="312.64" r="2.55"/><circle cx="1629.62" cy="472.48" r="2.55"/></g>
<polygon points="1577.34,472.7 1577.34,471.1 1584.81,472.48 1592.28,472.48 1599.75,472.48 1607.21,471.1 1614.68,456.34 1622.15,314.02 1629.62,472.48 1629.62,472.7" fill="#48408B" fill-opacity="0.17" stroke="none"/>
<polyline points="1577.34,471.1 1584.81,472.48 1592.28,472.48 1599.75,472.48 1607.21,471.1 1614.68,456.34 1622.15,314.02 1629.62,472.48" fill="none" stroke="#48408B" stroke-width="1.5" stroke-linejoin="round" stroke-linecap="round"/>
<g fill="#48408B"><circle cx="1577.34" cy="471.1" r="2.55"/><circle cx="1584.81" cy="472.48" r="2.55"/><circle cx="1592.28" cy="472.48" r="2.55"/><circle cx="1599.75" cy="472.48" r="2.55"/><circle cx="1607.21" cy="471.1" r="2.55"/><circle cx="1614.68" cy="456.34" r="2.55"/><circle cx="1622.15" cy="314.02" r="2.55"/><circle cx="1629.62" cy="472.48" r="2.55"/></g>
<rect x="1570.2" y="290.6" width="201.1" height="189.2" fill="none" stroke="#000" stroke-width="2.8" stroke-linejoin="round"/>
<path d="M1556 472.7H1570.2M1556 436.9H1570.2M1556 401.1H1570.2M1556 365.3H1570.2M1556 329.5H1570.2M1556 293.7H1570.2M1570.2 472.7V293.7" stroke="#000" stroke-width="2.8" stroke-linecap="round" fill="none"/>
<text transform="translate(1536.2 472.7) rotate(-90)" font-size="22.5" text-anchor="middle">0.0</text>
<text transform="translate(1536.2 401.1) rotate(-90)" font-size="22.5" text-anchor="middle">0.4</text>
<text transform="translate(1536.2 329.5) rotate(-90)" font-size="22.5" text-anchor="middle">0.8</text>
<text transform="translate(1494.4 385.2) rotate(-90)" font-size="22.5" text-anchor="middle">Frequency</text></g>
<g><polygon points="423.68,662.4 423.68,662.45 431.14,502.61 438.6,662.45 446.06,662.45 446.06,662.4" fill="#E8771E" fill-opacity="0.17" stroke="none"/>
<polyline points="423.68,662.45 431.14,502.61 438.6,662.45 446.06,662.45" fill="none" stroke="#E8771E" stroke-width="1.5" stroke-linejoin="round" stroke-linecap="round"/>
<g fill="#E8771E"><circle cx="423.68" cy="662.45" r="2.55"/><circle cx="431.14" cy="502.61" r="2.55"/><circle cx="438.6" cy="662.45" r="2.55"/><circle cx="446.06" cy="662.45" r="2.55"/></g>
<polygon points="423.68,662.4 423.68,662.45 431.14,502.61 438.6,662.45 446.06,662.45 446.06,662.4" fill="#48408B" fill-opacity="0.17" stroke="none"/>
<polyline points="423.68,662.45 431.14,502.61 438.6,662.45 446.06,662.45" fill="none" stroke="#48408B" stroke-width="1.5" stroke-linejoin="round" stroke-linecap="round"/>
<g fill="#48408B"><circle cx="423.68" cy="662.45" r="2.55"/><circle cx="431.14" cy="502.61" r="2.55"/><circle cx="438.6" cy="662.45" r="2.55"/><circle cx="446.06" cy="662.45" r="2.55"/></g>
<rect x="356.9" y="479.8" width="201.5" height="189.5" fill="none" stroke="#000" stroke-width="2.8" stroke-linejoin="round"/>
<path d="M342.7 662.4H356.9M342.7 630.4H356.9M342.7 598.4H356.9M342.7 566.4H356.9M342.7 534.4H356.9M342.7 502.4H356.9M356.9 662.4V502.4" stroke="#000" stroke-width="2.8" stroke-linecap="round" fill="none"/>
<text transform="translate(322.9 662.4) rotate(-90)" font-size="22.5" text-anchor="middle">0.0</text>
<text transform="translate(322.9 598.4) rotate(-90)" font-size="22.5" text-anchor="middle">0.4</text>
<text transform="translate(322.9 534.4) rotate(-90)" font-size="22.5" text-anchor="middle">0.8</text>
<text transform="translate(281.1 574.55) rotate(-90)" font-size="22.5" text-anchor="middle">Frequency</text>
<path d="M364.2 669.3V682.9M393.62 669.3V682.9M423.04 669.3V682.9M452.46 669.3V682.9M481.88 669.3V682.9M511.3 669.3V682.9M540.72 669.3V682.9M364.2 669.3H540.72" stroke="#000" stroke-width="2.8" stroke-linecap="round" fill="none"/>
<text x="364.2" y="720.1" font-size="22.5" text-anchor="middle">0</text>
<text x="423.04" y="720.1" font-size="22.5" text-anchor="middle">2</text>
<text x="481.88" y="720.1" font-size="22.5" text-anchor="middle">4</text>
<text x="540.72" y="720.1" font-size="22.5" text-anchor="middle">6</text></g>
<g><polygon points="694.45,662.4 694.45,662.45 701.75,502.61 709.06,658.51 716.36,662.45 716.36,662.4" fill="#E8771E" fill-opacity="0.17" stroke="none"/>
<polyline points="694.45,662.45 701.75,502.61 709.06,658.51 716.36,662.45" fill="none" stroke="#E8771E" stroke-width="1.5" stroke-linejoin="round" stroke-linecap="round"/>
<g fill="#E8771E"><circle cx="694.45" cy="662.45" r="2.55"/><circle cx="701.75" cy="502.61" r="2.55"/><circle cx="709.06" cy="658.51" r="2.55"/><circle cx="716.36" cy="662.45" r="2.55"/></g>
<polygon points="694.45,662.4 694.45,662.45 701.75,502.61 709.06,658.51 716.36,662.45 716.36,662.4" fill="#48408B" fill-opacity="0.17" stroke="none"/>
<polyline points="694.45,662.45 701.75,502.61 709.06,658.51 716.36,662.45" fill="none" stroke="#48408B" stroke-width="1.5" stroke-linejoin="round" stroke-linecap="round"/>
<g fill="#48408B"><circle cx="694.45" cy="662.45" r="2.55"/><circle cx="701.75" cy="502.61" r="2.55"/><circle cx="709.06" cy="658.51" r="2.55"/><circle cx="716.36" cy="662.45" r="2.55"/></g>
<rect x="642.43" y="479.8" width="201.5" height="189.5" fill="none" stroke="#000" stroke-width="2.8" stroke-linejoin="round"/>
<path d="M628.23 662.4H642.43M628.23 629.65H642.43M628.23 596.9H642.43M628.23 564.15H642.43M628.23 531.4H642.43M628.23 498.65H642.43M642.43 662.4V498.65" stroke="#000" stroke-width="2.8" stroke-linecap="round" fill="none"/>
<text transform="translate(608.43 662.4) rotate(-90)" font-size="22.5" text-anchor="middle">0.0</text>
<text transform="translate(608.43 596.9) rotate(-90)" font-size="22.5" text-anchor="middle">0.4</text>
<text transform="translate(608.43 531.4) rotate(-90)" font-size="22.5" text-anchor="middle">0.8</text>
<path d="M649.5 669.3V682.9M689.25 669.3V682.9M729 669.3V682.9M768.75 669.3V682.9M808.5 669.3V682.9M649.5 669.3H808.5" stroke="#000" stroke-width="2.8" stroke-linecap="round" fill="none"/>
<text x="649.5" y="720.1" font-size="22.5" text-anchor="middle">0</text>
<text x="689.25" y="720.1" font-size="22.5" text-anchor="middle">2</text>
<text x="729" y="720.1" font-size="22.5" text-anchor="middle">4</text>
<text x="768.75" y="720.1" font-size="22.5" text-anchor="middle">6</text>
<text x="808.5" y="720.1" font-size="22.5" text-anchor="middle">8</text></g>
<g><rect x="927.96" y="479.8" width="201.5" height="189.5" fill="none" stroke="#000" stroke-width="2.8" stroke-linejoin="round"/>
<path d="M913.76 662.1H927.96M913.76 630.2H927.96M913.76 598.3H927.96M913.76 566.4H927.96M913.76 534.5H927.96M913.76 502.6H927.96M927.96 662.1V502.6" stroke="#000" stroke-width="2.8" stroke-linecap="round" fill="none"/>
<text transform="translate(893.96 662.1) rotate(-90)" font-size="22.5" text-anchor="middle">0.0</text>
<text transform="translate(893.96 598.3) rotate(-90)" font-size="22.5" text-anchor="middle">0.4</text>
<text transform="translate(893.96 534.5) rotate(-90)" font-size="22.5" text-anchor="middle">0.8</text>
<path d="M935.1 669.3V682.9M981.75 669.3V682.9M1028.4 669.3V682.9M1075.05 669.3V682.9M1121.7 669.3V682.9M935.1 669.3H1121.7" stroke="#000" stroke-width="2.8" stroke-linecap="round" fill="none"/>
<text x="935.1" y="720.1" font-size="22.5" text-anchor="middle">0</text>
<text x="981.75" y="720.1" font-size="22.5" text-anchor="middle">2</text>
<text x="1028.4" y="720.1" font-size="22.5" text-anchor="middle">4</text>
<text x="1075.05" y="720.1" font-size="22.5" text-anchor="middle">6</text>
<text x="1121.7" y="720.1" font-size="22.5" text-anchor="middle">8</text></g>
<g><rect x="1213.49" y="479.8" width="201.5" height="189.5" fill="none" stroke="#000" stroke-width="2.8" stroke-linejoin="round"/>
<path d="M1199.29 662.1H1213.49M1199.29 630.2H1213.49M1199.29 598.3H1213.49M1199.29 566.4H1213.49M1199.29 534.5H1213.49M1199.29 502.6H1213.49M1213.49 662.1V502.6" stroke="#000" stroke-width="2.8" stroke-linecap="round" fill="none"/>
<text transform="translate(1179.49 662.1) rotate(-90)" font-size="22.5" text-anchor="middle">0.0</text>
<text transform="translate(1179.49 598.3) rotate(-90)" font-size="22.5" text-anchor="middle">0.4</text>
<text transform="translate(1179.49 534.5) rotate(-90)" font-size="22.5" text-anchor="middle">0.8</text>
<path d="M1220.8 669.3V682.9M1259.85 669.3V682.9M1298.9 669.3V682.9M1337.95 669.3V682.9M1377 669.3V682.9M1220.8 669.3H1377" stroke="#000" stroke-width="2.8" stroke-linecap="round" fill="none"/>
<text x="1220.8" y="720.1" font-size="22.5" text-anchor="middle">0</text>
<text x="1259.85" y="720.1" font-size="22.5" text-anchor="middle">1</text>
<text x="1298.9" y="720.1" font-size="22.5" text-anchor="middle">2</text>
<text x="1337.95" y="720.1" font-size="22.5" text-anchor="middle">3</text>
<text x="1377" y="720.1" font-size="22.5" text-anchor="middle">4</text></g>
<g><polygon points="1599.76,662.4 1599.76,662.45 1607.24,608.31 1614.72,502.61 1622.2,662.45 1622.2,662.4" fill="#E8771E" fill-opacity="0.17" stroke="none"/>
<polyline points="1599.76,662.45 1607.24,608.31 1614.72,502.61 1622.2,662.45" fill="none" stroke="#E8771E" stroke-width="1.5" stroke-linejoin="round" stroke-linecap="round"/>
<g fill="#E8771E"><circle cx="1599.76" cy="662.45" r="2.55"/><circle cx="1607.24" cy="608.31" r="2.55"/><circle cx="1614.72" cy="502.61" r="2.55"/><circle cx="1622.2" cy="662.45" r="2.55"/></g>
<polygon points="1599.76,662.4 1599.76,662.45 1607.24,608.31 1614.72,502.61 1622.2,662.45 1622.2,662.4" fill="#48408B" fill-opacity="0.17" stroke="none"/>
<polyline points="1599.76,662.45 1607.24,608.31 1614.72,502.61 1622.2,662.45" fill="none" stroke="#48408B" stroke-width="1.5" stroke-linejoin="round" stroke-linecap="round"/>
<g fill="#48408B"><circle cx="1599.76" cy="662.45" r="2.55"/><circle cx="1607.24" cy="608.31" r="2.55"/><circle cx="1614.72" cy="502.61" r="2.55"/><circle cx="1622.2" cy="662.45" r="2.55"/></g>
<rect x="1570.2" y="479.8" width="201.1" height="189.5" fill="none" stroke="#000" stroke-width="2.8" stroke-linejoin="round"/>
<path d="M1556 662.4H1570.2M1556 619.65H1570.2M1556 576.9H1570.2M1556 534.15H1570.2M1556 491.4H1570.2M1570.2 662.4V491.4" stroke="#000" stroke-width="2.8" stroke-linecap="round" fill="none"/>
<text transform="translate(1536.2 662.4) rotate(-90)" font-size="22.5" text-anchor="middle">0.0</text>
<text transform="translate(1536.2 576.9) rotate(-90)" font-size="22.5" text-anchor="middle">0.4</text>
<text transform="translate(1536.2 491.4) rotate(-90)" font-size="22.5" text-anchor="middle">0.8</text>
<text transform="translate(1494.4 574.55) rotate(-90)" font-size="22.5" text-anchor="middle">Frequency</text>
<path d="M1577.8 669.3V682.9M1610.65 669.3V682.9M1643.5 669.3V682.9M1676.35 669.3V682.9M1709.2 669.3V682.9M1742.05 669.3V682.9M1577.8 669.3H1742.05" stroke="#000" stroke-width="2.8" stroke-linecap="round" fill="none"/>
<text x="1577.8" y="720.1" font-size="22.5" text-anchor="middle">0</text>
<text x="1610.65" y="720.1" font-size="22.5" text-anchor="middle">5</text>
<text x="1676.35" y="720.1" font-size="22.5" text-anchor="middle">15</text>
<text x="1742.05" y="720.1" font-size="22.5" text-anchor="middle">25</text></g>
<g><polygon points="423.51,914.9 423.51,915.04 431.02,913.07 438.53,915.04 446.03,915.04 453.54,915.04 461.05,915.04 468.56,915.04 476.07,900.28 483.58,867.2 491.08,914.06 498.59,912.09 506.1,910.71 513.61,909.13 521.12,899.29 528.63,888.07 536.13,755.2 543.64,892.4 551.15,915.04 551.15,914.9" fill="#E8771E" fill-opacity="0.17" stroke="none"/>
<polyline points="423.51,915.04 431.02,913.07 438.53,915.04 446.03,915.04 453.54,915.04 461.05,915.04 468.56,915.04 476.07,900.28 483.58,867.2 491.08,914.06 498.59,912.09 506.1,910.71 513.61,909.13 521.12,899.29 528.63,888.07 536.13,755.2 543.64,892.4 551.15,915.04" fill="none" stroke="#E8771E" stroke-width="1.5" stroke-linejoin="round" stroke-linecap="round"/>
<g fill="#E8771E"><circle cx="423.51" cy="915.04" r="2.55"/><circle cx="431.02" cy="913.07" r="2.55"/><circle cx="438.53" cy="915.04" r="2.55"/><circle cx="446.03" cy="915.04" r="2.55"/><circle cx="453.54" cy="915.04" r="2.55"/><circle cx="461.05" cy="915.04" r="2.55"/><circle cx="468.56" cy="915.04" r="2.55"/><circle cx="476.07" cy="900.28" r="2.55"/><circle cx="483.58" cy="867.2" r="2.55"/><circle cx="491.08" cy="914.06" r="2.55"/><circle cx="498.59" cy="912.09" r="2.55"/><circle cx="506.1" cy="910.71" r="2.55"/><circle cx="513.61" cy="909.13" r="2.55"/><circle cx="521.12" cy="899.29" r="2.55"/><circle cx="528.63" cy="888.07" r="2.55"/><circle cx="536.13" cy="755.2" r="2.55"/><circle cx="543.64" cy="892.4" r="2.55"/><circle cx="551.15" cy="915.04" r="2.55"/></g>
<polygon points="423.51,914.9 423.51,915.04 431.02,913.07 438.53,915.04 446.03,915.04 453.54,915.04 461.05,915.04 468.56,915.04 476.07,904.21 483.58,878.03 491.08,910.12 498.59,904.8 506.1,906.18 513.61,899.29 521.12,875.28 528.63,852.05 536.13,806.18 543.64,912.09 551.15,915.04 551.15,914.9" fill="#48408B" fill-opacity="0.17" stroke="none"/>
<polyline points="423.51,915.04 431.02,913.07 438.53,915.04 446.03,915.04 453.54,915.04 461.05,915.04 468.56,915.04 476.07,904.21 483.58,878.03 491.08,910.12 498.59,904.8 506.1,906.18 513.61,899.29 521.12,875.28 528.63,852.05 536.13,806.18 543.64,912.09 551.15,915.04" fill="none" stroke="#48408B" stroke-width="1.5" stroke-linejoin="round" stroke-linecap="round"/>
<g fill="#48408B"><circle cx="423.51" cy="915.04" r="2.55"/><circle cx="431.02" cy="913.07" r="2.55"/><circle cx="438.53" cy="915.04" r="2.55"/><circle cx="446.03" cy="915.04" r="2.55"/><circle cx="453.54" cy="915.04" r="2.55"/><circle cx="461.05" cy="915.04" r="2.55"/><circle cx="468.56" cy="915.04" r="2.55"/><circle cx="476.07" cy="904.21" r="2.55"/><circle cx="483.58" cy="878.03" r="2.55"/><circle cx="491.08" cy="910.12" r="2.55"/><circle cx="498.59" cy="904.8" r="2.55"/><circle cx="506.1" cy="906.18" r="2.55"/><circle cx="513.61" cy="899.29" r="2.55"/><circle cx="521.12" cy="875.28" r="2.55"/><circle cx="528.63" cy="852.05" r="2.55"/><circle cx="536.13" cy="806.18" r="2.55"/><circle cx="543.64" cy="912.09" r="2.55"/><circle cx="551.15" cy="915.04" r="2.55"/></g>
<rect x="356.9" y="732.5" width="201.5" height="189.6" fill="none" stroke="#000" stroke-width="2.8" stroke-linejoin="round"/>
<path d="M342.7 914.9H356.9M342.7 884.84H356.9M342.7 854.78H356.9M342.7 824.72H356.9M342.7 794.66H356.9M342.7 764.6H356.9M342.7 734.54H356.9M356.9 914.9V734.54" stroke="#000" stroke-width="2.8" stroke-linecap="round" fill="none"/>
<text transform="translate(322.9 914.9) rotate(-90)" font-size="22.5" text-anchor="middle">0.0</text>
<text transform="translate(322.9 854.78) rotate(-90)" font-size="22.5" text-anchor="middle">0.2</text>
<text transform="translate(322.9 794.66) rotate(-90)" font-size="22.5" text-anchor="middle">0.4</text>
<text transform="translate(322.9 734.54) rotate(-90)" font-size="22.5" text-anchor="middle">0.6</text>
<text transform="translate(281.1 827.3) rotate(-90)" font-size="22.5" text-anchor="middle">Frequency</text>
<path d="M364.2 922.1V935.7M393.62 922.1V935.7M423.04 922.1V935.7M452.46 922.1V935.7M481.88 922.1V935.7M511.3 922.1V935.7M540.72 922.1V935.7M364.2 922.1H540.72" stroke="#000" stroke-width="2.8" stroke-linecap="round" fill="none"/>
<text x="364.2" y="972.2" font-size="22.5" text-anchor="middle">0</text>
<text x="423.04" y="972.2" font-size="22.5" text-anchor="middle">2</text>
<text x="481.88" y="972.2" font-size="22.5" text-anchor="middle">4</text>
<text x="540.72" y="972.2" font-size="22.5" text-anchor="middle">6</text>
<text x="457.65" y="1008.8" font-size="22.5" text-anchor="middle">Risk index</text></g>
<g><polygon points="694.26,915.2 694.26,915.04 701.74,911.1 709.21,914.45 716.69,915.04 724.17,915.04 731.65,915.04 739.13,790.43 746.61,913.07 754.08,914.65 761.56,912.09 769.04,912.09 776.52,890.43 784,894.37 791.47,907.17 798.95,883.15 806.43,893.98 813.91,859.92 821.39,755.2 828.87,762.09 836.34,915.04 836.34,915.2" fill="#E8771E" fill-opacity="0.17" stroke="none"/>
<polyline points="694.26,915.04 701.74,911.1 709.21,914.45 716.69,915.04 724.17,915.04 731.65,915.04 739.13,790.43 746.61,913.07 754.08,914.65 761.56,912.09 769.04,912.09 776.52,890.43 784,894.37 791.47,907.17 798.95,883.15 806.43,893.98 813.91,859.92 821.39,755.2 828.87,762.09 836.34,915.04" fill="none" stroke="#E8771E" stroke-width="1.5" stroke-linejoin="round" stroke-linecap="round"/>
<g fill="#E8771E"><circle cx="694.26" cy="915.04" r="2.55"/><circle cx="701.74" cy="911.1" r="2.55"/><circle cx="709.21" cy="914.45" r="2.55"/><circle cx="716.69" cy="915.04" r="2.55"/><circle cx="724.17" cy="915.04" r="2.55"/><circle cx="731.65" cy="915.04" r="2.55"/><circle cx="739.13" cy="790.43" r="2.55"/><circle cx="746.61" cy="913.07" r="2.55"/><circle cx="754.08" cy="914.65" r="2.55"/><circle cx="761.56" cy="912.09" r="2.55"/><circle cx="769.04" cy="912.09" r="2.55"/><circle cx="776.52" cy="890.43" r="2.55"/><circle cx="784" cy="894.37" r="2.55"/><circle cx="791.47" cy="907.17" r="2.55"/><circle cx="798.95" cy="883.15" r="2.55"/><circle cx="806.43" cy="893.98" r="2.55"/><circle cx="813.91" cy="859.92" r="2.55"/><circle cx="821.39" cy="755.2" r="2.55"/><circle cx="828.87" cy="762.09" r="2.55"/><circle cx="836.34" cy="915.04" r="2.55"/></g>
<polygon points="694.26,915.2 694.26,915.04 701.74,911.1 709.21,914.45 716.69,915.04 724.17,915.04 731.65,915.04 739.13,821.14 746.61,912.68 754.08,913.46 761.56,908.54 769.04,908.74 776.52,843.19 784,846.14 791.47,890.43 798.95,827.05 806.43,874.29 813.91,841.22 821.39,805.2 828.87,895.35 836.34,915.04 836.34,915.2" fill="#48408B" fill-opacity="0.17" stroke="none"/>
<polyline points="694.26,915.04 701.74,911.1 709.21,914.45 716.69,915.04 724.17,915.04 731.65,915.04 739.13,821.14 746.61,912.68 754.08,913.46 761.56,908.54 769.04,908.74 776.52,843.19 784,846.14 791.47,890.43 798.95,827.05 806.43,874.29 813.91,841.22 821.39,805.2 828.87,895.35 836.34,915.04" fill="none" stroke="#48408B" stroke-width="1.5" stroke-linejoin="round" stroke-linecap="round"/>
<g fill="#48408B"><circle cx="694.26" cy="915.04" r="2.55"/><circle cx="701.74" cy="911.1" r="2.55"/><circle cx="709.21" cy="914.45" r="2.55"/><circle cx="716.69" cy="915.04" r="2.55"/><circle cx="724.17" cy="915.04" r="2.55"/><circle cx="731.65" cy="915.04" r="2.55"/><circle cx="739.13" cy="821.14" r="2.55"/><circle cx="746.61" cy="912.68" r="2.55"/><circle cx="754.08" cy="913.46" r="2.55"/><circle cx="761.56" cy="908.54" r="2.55"/><circle cx="769.04" cy="908.74" r="2.55"/><circle cx="776.52" cy="843.19" r="2.55"/><circle cx="784" cy="846.14" r="2.55"/><circle cx="791.47" cy="890.43" r="2.55"/><circle cx="798.95" cy="827.05" r="2.55"/><circle cx="806.43" cy="874.29" r="2.55"/><circle cx="813.91" cy="841.22" r="2.55"/><circle cx="821.39" cy="805.2" r="2.55"/><circle cx="828.87" cy="895.35" r="2.55"/><circle cx="836.34" cy="915.04" r="2.55"/></g>
<rect x="642.43" y="732.5" width="201.5" height="189.6" fill="none" stroke="#000" stroke-width="2.8" stroke-linejoin="round"/>
<path d="M628.23 915.2H642.43M628.23 884.65H642.43M628.23 854.1H642.43M628.23 823.55H642.43M628.23 793H642.43M628.23 762.45H642.43M628.23 731.9H642.43M642.43 915.2V731.9" stroke="#000" stroke-width="2.8" stroke-linecap="round" fill="none"/>
<text transform="translate(608.43 915.2) rotate(-90)" font-size="22.5" text-anchor="middle">0.00</text>
<text transform="translate(608.43 823.55) rotate(-90)" font-size="22.5" text-anchor="middle">0.15</text>
<text transform="translate(608.43 731.9) rotate(-90)" font-size="22.5" text-anchor="middle">0.30</text>
<path d="M649.5 922.1V935.7M689.25 922.1V935.7M729 922.1V935.7M768.75 922.1V935.7M808.5 922.1V935.7M649.5 922.1H808.5" stroke="#000" stroke-width="2.8" stroke-linecap="round" fill="none"/>
<text x="649.5" y="972.2" font-size="22.5" text-anchor="middle">0</text>
<text x="689.25" y="972.2" font-size="22.5" text-anchor="middle">2</text>
<text x="729" y="972.2" font-size="22.5" text-anchor="middle">4</text>
<text x="768.75" y="972.2" font-size="22.5" text-anchor="middle">6</text>
<text x="808.5" y="972.2" font-size="22.5" text-anchor="middle">8</text>
<text x="743.18" y="1008.8" font-size="22.5" text-anchor="middle">Risk index</text></g>
<g><polygon points="935.19,915.2 935.19,910.12 942.64,915.04 950.1,915.04 957.56,915.04 965.02,755.2 972.48,915.43 979.94,914.06 987.4,912.48 994.85,907.17 1002.31,907.17 1009.77,895.35 1017.23,884.53 1024.69,910.12 1032.15,901.26 1039.61,895.35 1047.06,892.4 1054.52,890.43 1061.98,881.57 1069.44,878.23 1076.9,868.39 1084.36,851.46 1091.82,828.03 1099.27,803.43 1106.73,845.16 1114.19,914.45 1114.19,915.2" fill="#E8771E" fill-opacity="0.17" stroke="none"/>
<polyline points="935.19,910.12 942.64,915.04 950.1,915.04 957.56,915.04 965.02,755.2 972.48,915.43 979.94,914.06 987.4,912.48 994.85,907.17 1002.31,907.17 1009.77,895.35 1017.23,884.53 1024.69,910.12 1032.15,901.26 1039.61,895.35 1047.06,892.4 1054.52,890.43 1061.98,881.57 1069.44,878.23 1076.9,868.39 1084.36,851.46 1091.82,828.03 1099.27,803.43 1106.73,845.16 1114.19,914.45" fill="none" stroke="#E8771E" stroke-width="1.5" stroke-linejoin="round" stroke-linecap="round"/>
<g fill="#E8771E"><circle cx="935.19" cy="910.12" r="2.55"/><circle cx="942.64" cy="915.04" r="2.55"/><circle cx="950.1" cy="915.04" r="2.55"/><circle cx="957.56" cy="915.04" r="2.55"/><circle cx="965.02" cy="755.2" r="2.55"/><circle cx="972.48" cy="915.43" r="2.55"/><circle cx="979.94" cy="914.06" r="2.55"/><circle cx="987.4" cy="912.48" r="2.55"/><circle cx="994.85" cy="907.17" r="2.55"/><circle cx="1002.31" cy="907.17" r="2.55"/><circle cx="1009.77" cy="895.35" r="2.55"/><circle cx="1017.23" cy="884.53" r="2.55"/><circle cx="1024.69" cy="910.12" r="2.55"/><circle cx="1032.15" cy="901.26" r="2.55"/><circle cx="1039.61" cy="895.35" r="2.55"/><circle cx="1047.06" cy="892.4" r="2.55"/><circle cx="1054.52" cy="890.43" r="2.55"/><circle cx="1061.98" cy="881.57" r="2.55"/><circle cx="1069.44" cy="878.23" r="2.55"/><circle cx="1076.9" cy="868.39" r="2.55"/><circle cx="1084.36" cy="851.46" r="2.55"/><circle cx="1091.82" cy="828.03" r="2.55"/><circle cx="1099.27" cy="803.43" r="2.55"/><circle cx="1106.73" cy="845.16" r="2.55"/><circle cx="1114.19" cy="914.45" r="2.55"/></g>
<polygon points="935.19,915.2 935.19,910.12 942.64,915.04 950.1,915.04 957.56,915.04 965.02,794.57 972.48,913.46 979.94,910.12 987.4,908.15 994.85,896.34 1002.31,892.4 1009.77,856.38 1017.23,824.49 1024.69,892.4 1032.15,875.28 1039.61,866.22 1047.06,856.38 1054.52,881.57 1061.98,868.39 1069.44,874.69 1076.9,863.46 1084.36,870.35 1091.82,881.57 1099.27,898.31 1106.73,910.12 1114.19,914.45 1114.19,915.2" fill="#48408B" fill-opacity="0.17" stroke="none"/>
<polyline points="935.19,910.12 942.64,915.04 950.1,915.04 957.56,915.04 965.02,794.57 972.48,913.46 979.94,910.12 987.4,908.15 994.85,896.34 1002.31,892.4 1009.77,856.38 1017.23,824.49 1024.69,892.4 1032.15,875.28 1039.61,866.22 1047.06,856.38 1054.52,881.57 1061.98,868.39 1069.44,874.69 1076.9,863.46 1084.36,870.35 1091.82,881.57 1099.27,898.31 1106.73,910.12 1114.19,914.45" fill="none" stroke="#48408B" stroke-width="1.5" stroke-linejoin="round" stroke-linecap="round"/>
<g fill="#48408B"><circle cx="935.19" cy="910.12" r="2.55"/><circle cx="942.64" cy="915.04" r="2.55"/><circle cx="950.1" cy="915.04" r="2.55"/><circle cx="957.56" cy="915.04" r="2.55"/><circle cx="965.02" cy="794.57" r="2.55"/><circle cx="972.48" cy="913.46" r="2.55"/><circle cx="979.94" cy="910.12" r="2.55"/><circle cx="987.4" cy="908.15" r="2.55"/><circle cx="994.85" cy="896.34" r="2.55"/><circle cx="1002.31" cy="892.4" r="2.55"/><circle cx="1009.77" cy="856.38" r="2.55"/><circle cx="1017.23" cy="824.49" r="2.55"/><circle cx="1024.69" cy="892.4" r="2.55"/><circle cx="1032.15" cy="875.28" r="2.55"/><circle cx="1039.61" cy="866.22" r="2.55"/><circle cx="1047.06" cy="856.38" r="2.55"/><circle cx="1054.52" cy="881.57" r="2.55"/><circle cx="1061.98" cy="868.39" r="2.55"/><circle cx="1069.44" cy="874.69" r="2.55"/><circle cx="1076.9" cy="863.46" r="2.55"/><circle cx="1084.36" cy="870.35" r="2.55"/><circle cx="1091.82" cy="881.57" r="2.55"/><circle cx="1099.27" cy="898.31" r="2.55"/><circle cx="1106.73" cy="910.12" r="2.55"/><circle cx="1114.19" cy="914.45" r="2.55"/></g>
<rect x="927.96" y="732.5" width="201.5" height="189.6" fill="none" stroke="#000" stroke-width="2.8" stroke-linejoin="round"/>
<path d="M913.76 915.2H927.96M913.76 876.53H927.96M913.76 837.86H927.96M913.76 799.19H927.96M913.76 760.52H927.96M927.96 915.2V760.52" stroke="#000" stroke-width="2.8" stroke-linecap="round" fill="none"/>
<text transform="translate(893.96 915.2) rotate(-90)" font-size="22.5" text-anchor="middle">0.00</text>
<text transform="translate(893.96 837.86) rotate(-90)" font-size="22.5" text-anchor="middle">0.10</text>
<text transform="translate(893.96 760.52) rotate(-90)" font-size="22.5" text-anchor="middle">0.20</text>
<path d="M935.1 922.1V935.7M981.75 922.1V935.7M1028.4 922.1V935.7M1075.05 922.1V935.7M1121.7 922.1V935.7M935.1 922.1H1121.7" stroke="#000" stroke-width="2.8" stroke-linecap="round" fill="none"/>
<text x="935.1" y="972.2" font-size="22.5" text-anchor="middle">0</text>
<text x="981.75" y="972.2" font-size="22.5" text-anchor="middle">2</text>
<text x="1028.4" y="972.2" font-size="22.5" text-anchor="middle">4</text>
<text x="1075.05" y="972.2" font-size="22.5" text-anchor="middle">6</text>
<text x="1121.7" y="972.2" font-size="22.5" text-anchor="middle">8</text>
<text x="1028.71" y="1008.8" font-size="22.5" text-anchor="middle">Risk index</text></g>
<g><polygon points="1227.6,915.2 1227.6,915.04 1234.78,915.04 1241.96,915.04 1249.15,915.04 1256.33,915.04 1263.51,915.04 1270.69,915.04 1277.87,915.04 1285.06,915.04 1292.24,844.17 1299.42,915.04 1306.6,914.45 1313.78,915.04 1320.97,915.04 1328.15,913.07 1335.33,913.46 1342.51,911.1 1349.7,909.13 1356.88,898.31 1364.06,911.1 1371.24,904.21 1378.42,895.35 1385.61,880.59 1392.79,755.2 1399.97,905.2 1407.15,915.04 1407.15,915.2" fill="#E8771E" fill-opacity="0.17" stroke="none"/>
<polyline points="1227.6,915.04 1234.78,915.04 1241.96,915.04 1249.15,915.04 1256.33,915.04 1263.51,915.04 1270.69,915.04 1277.87,915.04 1285.06,915.04 1292.24,844.17 1299.42,915.04 1306.6,914.45 1313.78,915.04 1320.97,915.04 1328.15,913.07 1335.33,913.46 1342.51,911.1 1349.7,909.13 1356.88,898.31 1364.06,911.1 1371.24,904.21 1378.42,895.35 1385.61,880.59 1392.79,755.2 1399.97,905.2 1407.15,915.04" fill="none" stroke="#E8771E" stroke-width="1.5" stroke-linejoin="round" stroke-linecap="round"/>
<g fill="#E8771E"><circle cx="1227.6" cy="915.04" r="2.55"/><circle cx="1234.78" cy="915.04" r="2.55"/><circle cx="1241.96" cy="915.04" r="2.55"/><circle cx="1249.15" cy="915.04" r="2.55"/><circle cx="1256.33" cy="915.04" r="2.55"/><circle cx="1263.51" cy="915.04" r="2.55"/><circle cx="1270.69" cy="915.04" r="2.55"/><circle cx="1277.87" cy="915.04" r="2.55"/><circle cx="1285.06" cy="915.04" r="2.55"/><circle cx="1292.24" cy="844.17" r="2.55"/><circle cx="1299.42" cy="915.04" r="2.55"/><circle cx="1306.6" cy="914.45" r="2.55"/><circle cx="1313.78" cy="915.04" r="2.55"/><circle cx="1320.97" cy="915.04" r="2.55"/><circle cx="1328.15" cy="913.07" r="2.55"/><circle cx="1335.33" cy="913.46" r="2.55"/><circle cx="1342.51" cy="911.1" r="2.55"/><circle cx="1349.7" cy="909.13" r="2.55"/><circle cx="1356.88" cy="898.31" r="2.55"/><circle cx="1364.06" cy="911.1" r="2.55"/><circle cx="1371.24" cy="904.21" r="2.55"/><circle cx="1378.42" cy="895.35" r="2.55"/><circle cx="1385.61" cy="880.59" r="2.55"/><circle cx="1392.79" cy="755.2" r="2.55"/><circle cx="1399.97" cy="905.2" r="2.55"/><circle cx="1407.15" cy="915.04" r="2.55"/></g>
<polygon points="1227.6,915.2 1227.6,915.04 1234.78,915.04 1241.96,915.04 1249.15,915.04 1256.33,915.04 1263.51,915.04 1270.69,915.04 1277.87,915.04 1285.06,915.04 1292.24,861.3 1299.42,915.04 1306.6,914.45 1313.78,913.46 1320.97,912.09 1328.15,909.53 1335.33,907.17 1342.51,907.17 1349.7,897.32 1356.88,866.22 1364.06,900.28 1371.24,887.09 1378.42,876.26 1385.61,868.39 1392.79,848.11 1399.97,914.45 1407.15,915.04 1407.15,915.2" fill="#48408B" fill-opacity="0.17" stroke="none"/>
<polyline points="1227.6,915.04 1234.78,915.04 1241.96,915.04 1249.15,915.04 1256.33,915.04 1263.51,915.04 1270.69,915.04 1277.87,915.04 1285.06,915.04 1292.24,861.3 1299.42,915.04 1306.6,914.45 1313.78,913.46 1320.97,912.09 1328.15,909.53 1335.33,907.17 1342.51,907.17 1349.7,897.32 1356.88,866.22 1364.06,900.28 1371.24,887.09 1378.42,876.26 1385.61,868.39 1392.79,848.11 1399.97,914.45 1407.15,915.04" fill="none" stroke="#48408B" stroke-width="1.5" stroke-linejoin="round" stroke-linecap="round"/>
<g fill="#48408B"><circle cx="1227.6" cy="915.04" r="2.55"/><circle cx="1234.78" cy="915.04" r="2.55"/><circle cx="1241.96" cy="915.04" r="2.55"/><circle cx="1249.15" cy="915.04" r="2.55"/><circle cx="1256.33" cy="915.04" r="2.55"/><circle cx="1263.51" cy="915.04" r="2.55"/><circle cx="1270.69" cy="915.04" r="2.55"/><circle cx="1277.87" cy="915.04" r="2.55"/><circle cx="1285.06" cy="915.04" r="2.55"/><circle cx="1292.24" cy="861.3" r="2.55"/><circle cx="1299.42" cy="915.04" r="2.55"/><circle cx="1306.6" cy="914.45" r="2.55"/><circle cx="1313.78" cy="913.46" r="2.55"/><circle cx="1320.97" cy="912.09" r="2.55"/><circle cx="1328.15" cy="909.53" r="2.55"/><circle cx="1335.33" cy="907.17" r="2.55"/><circle cx="1342.51" cy="907.17" r="2.55"/><circle cx="1349.7" cy="897.32" r="2.55"/><circle cx="1356.88" cy="866.22" r="2.55"/><circle cx="1364.06" cy="900.28" r="2.55"/><circle cx="1371.24" cy="887.09" r="2.55"/><circle cx="1378.42" cy="876.26" r="2.55"/><circle cx="1385.61" cy="868.39" r="2.55"/><circle cx="1392.79" cy="848.11" r="2.55"/><circle cx="1399.97" cy="914.45" r="2.55"/><circle cx="1407.15" cy="915.04" r="2.55"/></g>
<rect x="1213.49" y="732.5" width="201.5" height="189.6" fill="none" stroke="#000" stroke-width="2.8" stroke-linejoin="round"/>
<path d="M1199.29 915.2H1213.49M1199.29 880.9H1213.49M1199.29 846.6H1213.49M1199.29 812.3H1213.49M1199.29 778H1213.49M1199.29 743.7H1213.49M1213.49 915.2V743.7" stroke="#000" stroke-width="2.8" stroke-linecap="round" fill="none"/>
<text transform="translate(1179.49 915.2) rotate(-90)" font-size="22.5" text-anchor="middle">0.0</text>
<text transform="translate(1179.49 846.6) rotate(-90)" font-size="22.5" text-anchor="middle">0.2</text>
<text transform="translate(1179.49 778) rotate(-90)" font-size="22.5" text-anchor="middle">0.4</text>
<path d="M1220.8 922.1V935.7M1259.85 922.1V935.7M1298.9 922.1V935.7M1337.95 922.1V935.7M1377 922.1V935.7M1220.8 922.1H1377" stroke="#000" stroke-width="2.8" stroke-linecap="round" fill="none"/>
<text x="1220.8" y="972.2" font-size="22.5" text-anchor="middle">0</text>
<text x="1259.85" y="972.2" font-size="22.5" text-anchor="middle">1</text>
<text x="1298.9" y="972.2" font-size="22.5" text-anchor="middle">2</text>
<text x="1337.95" y="972.2" font-size="22.5" text-anchor="middle">3</text>
<text x="1377" y="972.2" font-size="22.5" text-anchor="middle">4</text>
<text x="1314.24" y="1008.8" font-size="22.5" text-anchor="middle">Risk index</text></g>
<g><polygon points="1599.89,915.2 1599.89,915.04 1607.02,914.06 1614.16,912.48 1621.29,915.04 1628.42,915.04 1635.55,915.04 1642.69,915.04 1649.82,913.46 1656.95,812.28 1664.08,915.04 1671.22,914.06 1678.35,914.06 1685.48,909.53 1692.61,907.56 1699.75,887.09 1706.88,911.1 1714.01,902.24 1721.15,892.4 1728.28,890.43 1735.41,873.31 1742.54,840.24 1749.68,755.2 1756.81,902.24 1763.94,915.04 1763.94,915.2" fill="#E8771E" fill-opacity="0.17" stroke="none"/>
<polyline points="1599.89,915.04 1607.02,914.06 1614.16,912.48 1621.29,915.04 1628.42,915.04 1635.55,915.04 1642.69,915.04 1649.82,913.46 1656.95,812.28 1664.08,915.04 1671.22,914.06 1678.35,914.06 1685.48,909.53 1692.61,907.56 1699.75,887.09 1706.88,911.1 1714.01,902.24 1721.15,892.4 1728.28,890.43 1735.41,873.31 1742.54,840.24 1749.68,755.2 1756.81,902.24 1763.94,915.04" fill="none" stroke="#E8771E" stroke-width="1.5" stroke-linejoin="round" stroke-linecap="round"/>
<g fill="#E8771E"><circle cx="1599.89" cy="915.04" r="2.55"/><circle cx="1607.02" cy="914.06" r="2.55"/><circle cx="1614.16" cy="912.48" r="2.55"/><circle cx="1621.29" cy="915.04" r="2.55"/><circle cx="1628.42" cy="915.04" r="2.55"/><circle cx="1635.55" cy="915.04" r="2.55"/><circle cx="1642.69" cy="915.04" r="2.55"/><circle cx="1649.82" cy="913.46" r="2.55"/><circle cx="1656.95" cy="812.28" r="2.55"/><circle cx="1664.08" cy="915.04" r="2.55"/><circle cx="1671.22" cy="914.06" r="2.55"/><circle cx="1678.35" cy="914.06" r="2.55"/><circle cx="1685.48" cy="909.53" r="2.55"/><circle cx="1692.61" cy="907.56" r="2.55"/><circle cx="1699.75" cy="887.09" r="2.55"/><circle cx="1706.88" cy="911.1" r="2.55"/><circle cx="1714.01" cy="902.24" r="2.55"/><circle cx="1721.15" cy="892.4" r="2.55"/><circle cx="1728.28" cy="890.43" r="2.55"/><circle cx="1735.41" cy="873.31" r="2.55"/><circle cx="1742.54" cy="840.24" r="2.55"/><circle cx="1749.68" cy="755.2" r="2.55"/><circle cx="1756.81" cy="902.24" r="2.55"/><circle cx="1763.94" cy="915.04" r="2.55"/></g>
<polygon points="1599.89,915.2 1599.89,915.04 1607.02,914.06 1614.16,912.48 1621.29,915.04 1628.42,915.04 1635.55,915.04 1642.69,915.04 1649.82,913.07 1656.95,837.28 1664.08,913.46 1671.22,911.1 1678.35,909.13 1685.48,900.28 1692.61,895.35 1699.75,829.41 1706.88,902.24 1714.01,881.18 1721.15,854.41 1728.28,879.61 1735.41,865.43 1742.54,851.46 1749.68,881.18 1756.81,914.45 1763.94,915.04 1763.94,915.2" fill="#48408B" fill-opacity="0.17" stroke="none"/>
<polyline points="1599.89,915.04 1607.02,914.06 1614.16,912.48 1621.29,915.04 1628.42,915.04 1635.55,915.04 1642.69,915.04 1649.82,913.07 1656.95,837.28 1664.08,913.46 1671.22,911.1 1678.35,909.13 1685.48,900.28 1692.61,895.35 1699.75,829.41 1706.88,902.24 1714.01,881.18 1721.15,854.41 1728.28,879.61 1735.41,865.43 1742.54,851.46 1749.68,881.18 1756.81,914.45 1763.94,915.04" fill="none" stroke="#48408B" stroke-width="1.5" stroke-linejoin="round" stroke-linecap="round"/>
<g fill="#48408B"><circle cx="1599.89" cy="915.04" r="2.55"/><circle cx="1607.02" cy="914.06" r="2.55"/><circle cx="1614.16" cy="912.48" r="2.55"/><circle cx="1621.29" cy="915.04" r="2.55"/><circle cx="1628.42" cy="915.04" r="2.55"/><circle cx="1635.55" cy="915.04" r="2.55"/><circle cx="1642.69" cy="915.04" r="2.55"/><circle cx="1649.82" cy="913.07" r="2.55"/><circle cx="1656.95" cy="837.28" r="2.55"/><circle cx="1664.08" cy="913.46" r="2.55"/><circle cx="1671.22" cy="911.1" r="2.55"/><circle cx="1678.35" cy="909.13" r="2.55"/><circle cx="1685.48" cy="900.28" r="2.55"/><circle cx="1692.61" cy="895.35" r="2.55"/><circle cx="1699.75" cy="829.41" r="2.55"/><circle cx="1706.88" cy="902.24" r="2.55"/><circle cx="1714.01" cy="881.18" r="2.55"/><circle cx="1721.15" cy="854.41" r="2.55"/><circle cx="1728.28" cy="879.61" r="2.55"/><circle cx="1735.41" cy="865.43" r="2.55"/><circle cx="1742.54" cy="851.46" r="2.55"/><circle cx="1749.68" cy="881.18" r="2.55"/><circle cx="1756.81" cy="914.45" r="2.55"/><circle cx="1763.94" cy="915.04" r="2.55"/></g>
<rect x="1570.2" y="732.5" width="201.1" height="189.6" fill="none" stroke="#000" stroke-width="2.8" stroke-linejoin="round"/>
<path d="M1556 915.2H1570.2M1556 890.03H1570.2M1556 864.86H1570.2M1556 839.69H1570.2M1556 814.52H1570.2M1556 789.35H1570.2M1556 764.18H1570.2M1556 739.01H1570.2M1570.2 915.2V739.01" stroke="#000" stroke-width="2.8" stroke-linecap="round" fill="none"/>
<text transform="translate(1536.2 915.2) rotate(-90)" font-size="22.5" text-anchor="middle">0.00</text>
<text transform="translate(1536.2 839.69) rotate(-90)" font-size="22.5" text-anchor="middle">0.15</text>
<text transform="translate(1536.2 764.18) rotate(-90)" font-size="22.5" text-anchor="middle">0.30</text>
<text transform="translate(1494.4 827.3) rotate(-90)" font-size="22.5" text-anchor="middle">Frequency</text>
<path d="M1577.8 922.1V935.7M1610.65 922.1V935.7M1643.5 922.1V935.7M1676.35 922.1V935.7M1709.2 922.1V935.7M1742.05 922.1V935.7M1577.8 922.1H1742.05" stroke="#000" stroke-width="2.8" stroke-linecap="round" fill="none"/>
<text x="1577.8" y="972.2" font-size="22.5" text-anchor="middle">0</text>
<text x="1610.65" y="972.2" font-size="22.5" text-anchor="middle">5</text>
<text x="1676.35" y="972.2" font-size="22.5" text-anchor="middle">15</text>
<text x="1742.05" y="972.2" font-size="22.5" text-anchor="middle">25</text>
<text x="1670.75" y="1008.8" font-size="22.5" text-anchor="middle">Risk index</text></g>
</svg>
</body></html>
